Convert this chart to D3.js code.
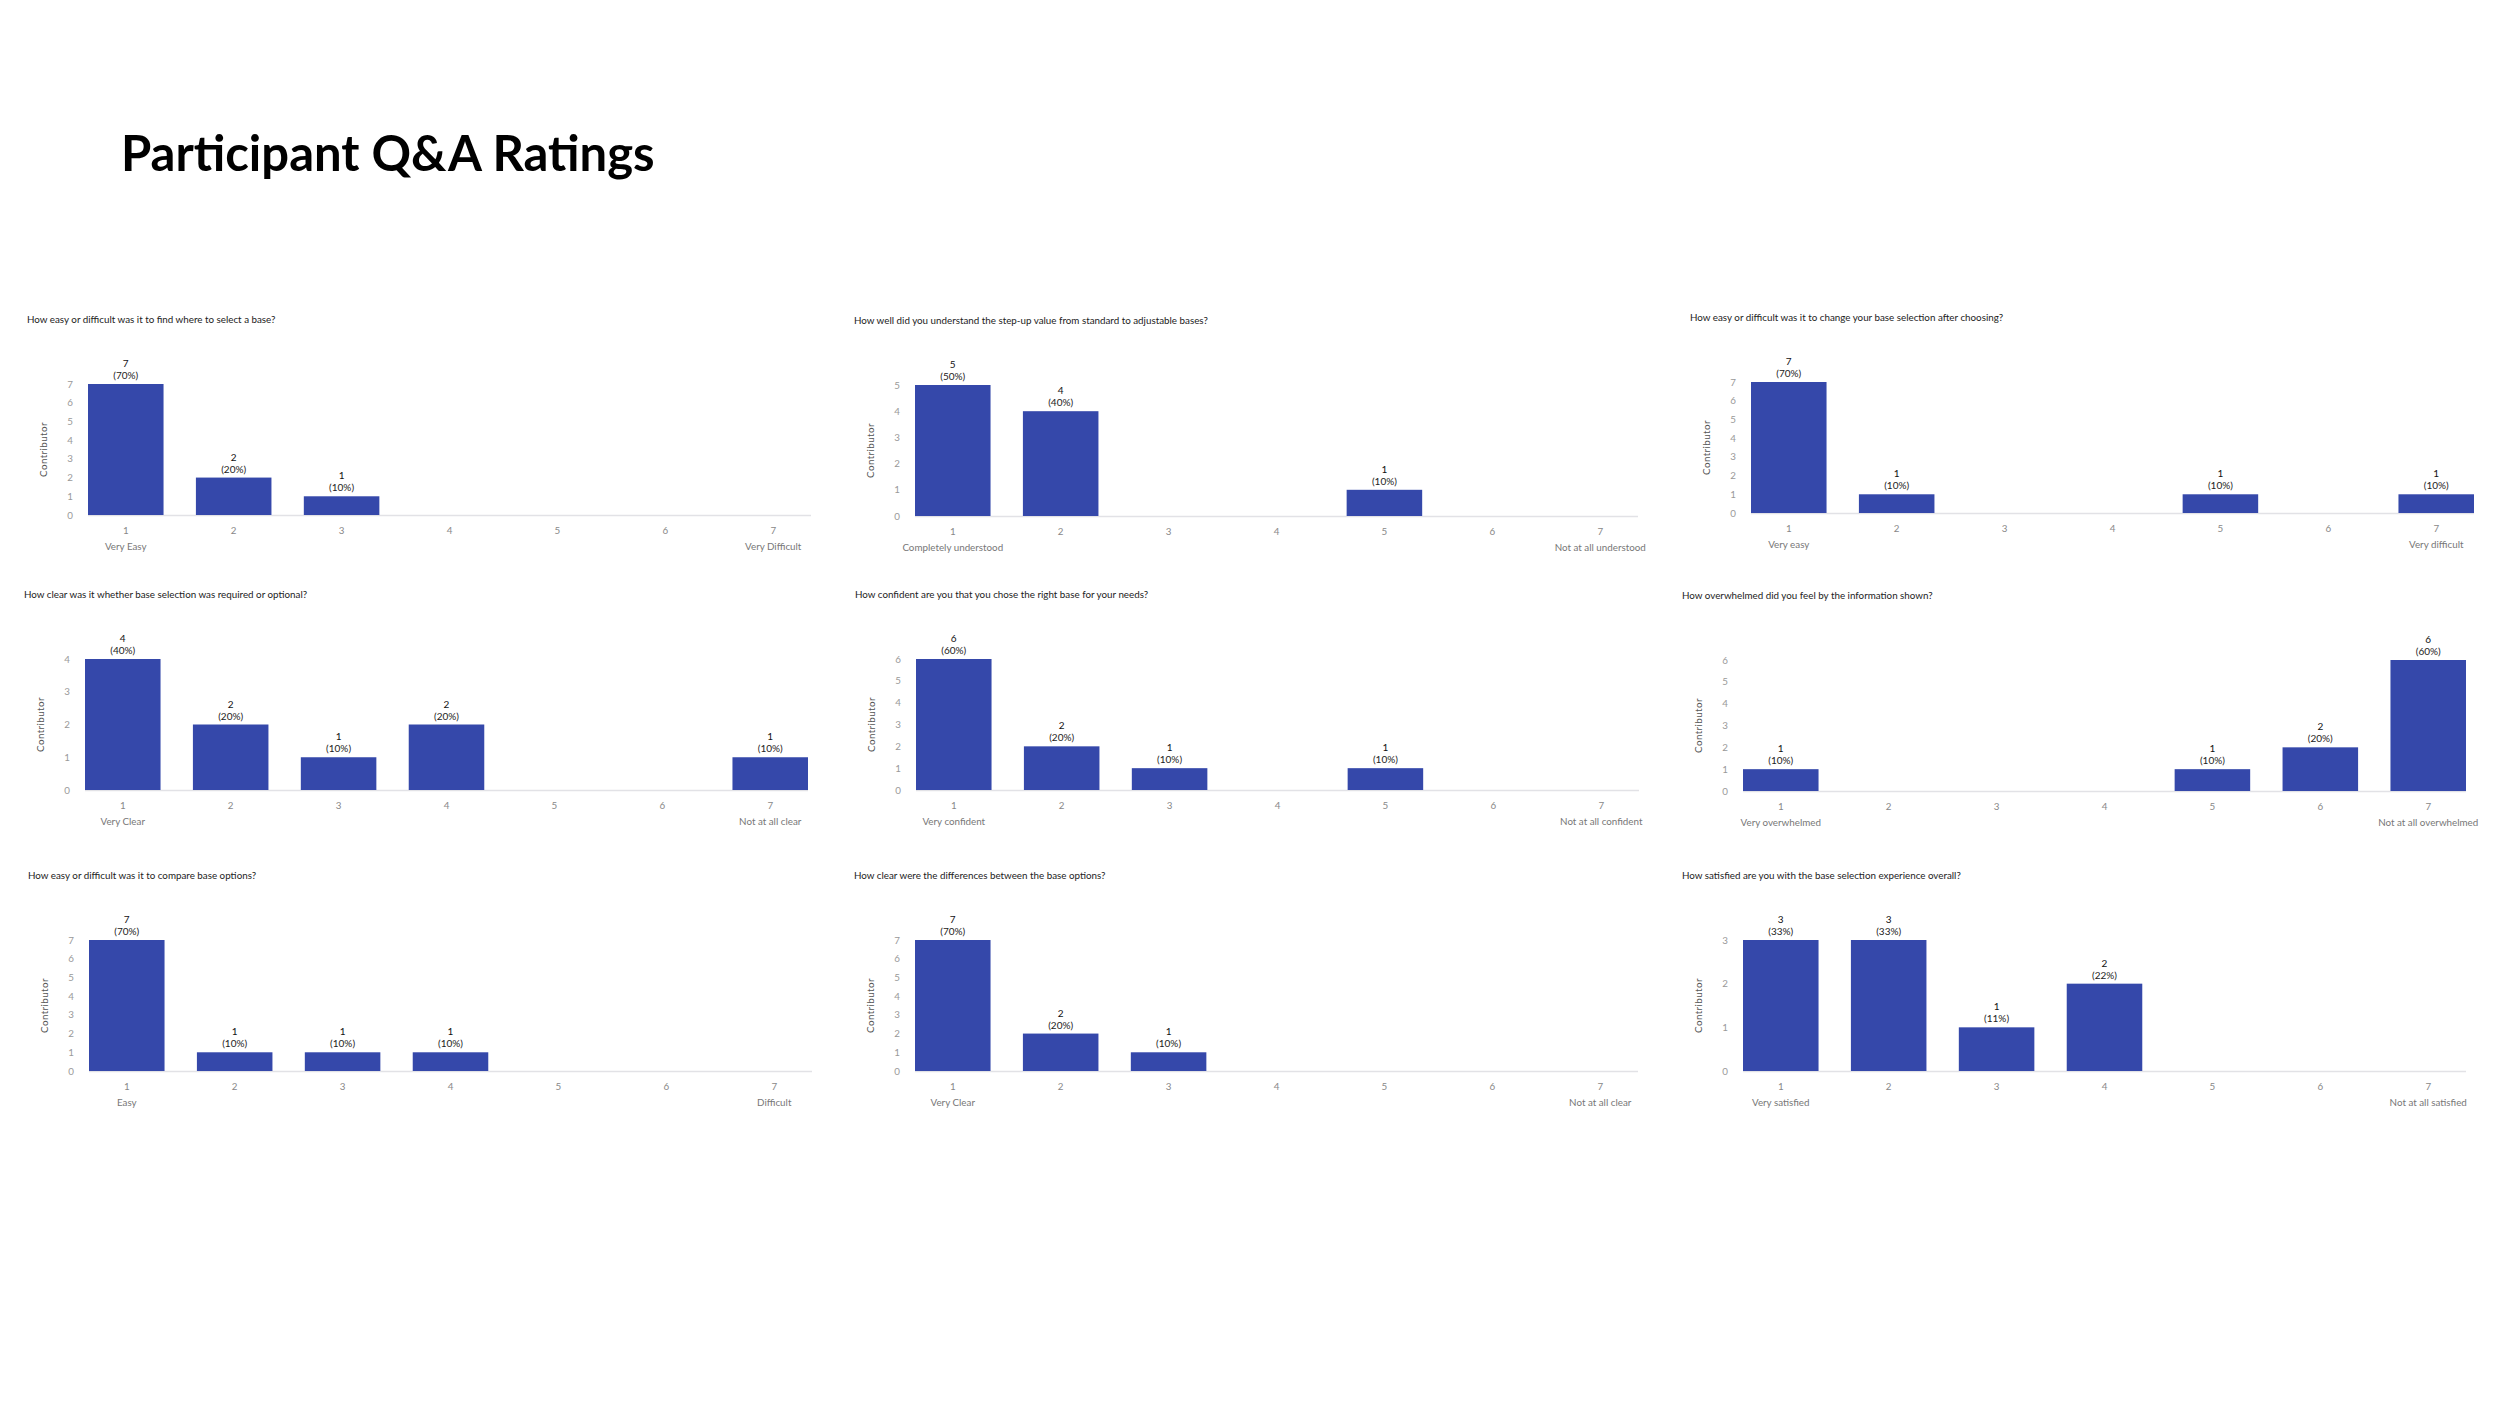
<!DOCTYPE html>
<html>
<head>
<meta charset="utf-8">
<script src="https://cdn.jsdelivr.net/npm/d3@7"></script>
<style>
  html, body { margin: 0; padding: 0; background: #ffffff; }
  svg { display: block; }
</style>
</head>
<body>
<div id="chart"></div>
<script>
// ---- data ----
const ratings = ["1", "2", "3", "4", "5", "6", "7"];

const questions = [
  "How easy or difficult was it to find where to select a base?",
  "How well did you understand the step-up value from standard to adjustable bases?",
  "How easy or difficult was it to change your base selection after choosing?",
  "How clear was it whether base selection was required or optional?",
  "How confident are you that you chose the right base for your needs?",
  "How overwhelmed did you feel by the information shown?",
  "How easy or difficult was it to compare base options?",
  "How clear were the differences between the base options?",
  "How satisfied are you with the base selection experience overall?"
];

const counts = [
  [7, 2, 1, 0, 0, 0, 0],
  [5, 4, 0, 0, 1, 0, 0],
  [7, 1, 0, 0, 1, 0, 1],
  [4, 2, 1, 2, 0, 0, 1],
  [6, 2, 1, 0, 1, 0, 0],
  [1, 0, 0, 0, 1, 2, 6],
  [7, 1, 1, 1, 0, 0, 0],
  [7, 2, 1, 0, 0, 0, 0],
  [3, 3, 1, 2, 0, 0, 0]
];

const percents = [
  ["70%", "20%", "10%", "", "", "", ""],
  ["50%", "40%", "", "", "10%", "", ""],
  ["70%", "10%", "", "", "10%", "", "10%"],
  ["40%", "20%", "10%", "20%", "", "", "10%"],
  ["60%", "20%", "10%", "", "10%", "", ""],
  ["10%", "", "", "", "10%", "20%", "60%"],
  ["70%", "10%", "10%", "10%", "", "", ""],
  ["70%", "20%", "10%", "", "", "", ""],
  ["33%", "33%", "11%", "22%", "", "", ""]
];

const lowLabels = ["Very Easy", "Completely understood", "Very easy", "Very Clear",
  "Very confident", "Very overwhelmed", "Easy", "Very Clear", "Very satisfied"];
const highLabels = ["Very Difficult", "Not at all understood", "Very difficult", "Not at all clear",
  "Not at all confident", "Not at all overwhelmed", "Difficult", "Not at all clear", "Not at all satisfied"];

// ---- layout ----
const W = 2500, H = 1406;
const plotW = 723, plotH = 131;
// bar-area left edge and baseline of each panel
const origins = [
  [88, 515], [915, 516], [1751, 513],
  [85, 790], [916, 790], [1743, 791],
  [89, 1071], [915, 1071], [1743, 1071]
];

const font = "Lato, 'Open Sans', sans-serif";
const barColor = "#3548aa";
const fs = "9.8px";

const svg = d3.select("#chart")
  .append("svg")
  .attr("width", W)
  .attr("height", H);

// main title
svg.append("text")
  .attr("x", 121)
  .attr("y", 171)
  .attr("font-family", font)
  .attr("font-weight", 700)
  .attr("font-size", "49px")
  .attr("fill", "#000")
  .text("Participant Q&A Ratings");

questions.forEach((q, i) => {
  const [ox, oy] = origins[i];
  const vals = counts[i];
  const maxV = d3.max(vals);

  const g = svg.append("g").attr("transform", `translate(${ox},${oy})`);

  const x = d3.scaleBand()
    .domain(ratings)
    .range([0, plotW])
    .paddingInner(0.3)
    .paddingOuter(0);

  const y = d3.scaleLinear().domain([0, maxV]).range([0, -plotH]);

  // question
  g.append("text")
    .attr("x", -61)
    .attr("y", -192)
    .attr("font-family", font)
    .attr("font-size", fs)
    .attr("fill", "#222")
    .text(q);

  // y label
  g.append("text")
    .attr("transform", `translate(-44,${-plotH / 2}) rotate(-90)`)
    .attr("text-anchor", "middle")
    .attr("dy", "0.35em")
    .attr("font-family", font)
    .attr("font-size", fs)
    .attr("letter-spacing", "0.4px")
    .attr("fill", "#555")
    .text("Contributor");

  // y axis (labels only)
  const yAxis = g.append("g")
    .attr("transform", "translate(-12,0)")
    .call(d3.axisLeft(y).tickValues(d3.range(0, maxV + 1)).tickSize(0).tickPadding(0).tickFormat(d3.format("d")));
  yAxis.select(".domain").remove();
  yAxis.selectAll("text")
    .attr("text-anchor", "middle")
    .attr("x", -6)
    .attr("font-family", font)
    .attr("font-size", fs)
    .attr("fill", "#999");

  // baseline
  g.append("line")
    .attr("x1", 0).attr("x2", plotW)
    .attr("y1", 0.5).attr("y2", 0.5)
    .attr("stroke", "#e2e2e6")
    .attr("stroke-width", 1.5);

  // x axis
  const xAxis = g.append("g")
    .call(d3.axisBottom(x).tickSize(0).tickPadding(12));
  xAxis.select(".domain").remove();
  xAxis.selectAll("text")
    .attr("font-family", font)
    .attr("font-size", fs)
    .attr("fill", "#888");

  // end labels
  g.append("text")
    .attr("x", x("1") + x.bandwidth() / 2)
    .attr("y", 35)
    .attr("text-anchor", "middle")
    .attr("font-family", font)
    .attr("font-size", fs)
    .attr("fill", "#777")
    .text(lowLabels[i]);
  g.append("text")
    .attr("x", x("7") + x.bandwidth() / 2)
    .attr("y", 35)
    .attr("text-anchor", "middle")
    .attr("font-family", font)
    .attr("font-size", fs)
    .attr("fill", "#777")
    .text(highLabels[i]);

  const data = ratings.map((r, j) => ({ r, v: vals[j], p: percents[i][j] })).filter(d => d.v > 0);

  // bars
  g.selectAll("rect.bar")
    .data(data)
    .enter()
    .append("rect")
    .attr("class", "bar")
    .attr("x", d => x(d.r))
    .attr("y", d => y(d.v))
    .attr("width", x.bandwidth())
    .attr("height", d => -y(d.v))
    .attr("fill", barColor);

  // value labels
  const lbl = g.selectAll("text.val")
    .data(data)
    .enter()
    .append("text")
    .attr("class", "val")
    .attr("x", d => x(d.r) + x.bandwidth() / 2)
    .attr("y", d => y(d.v))
    .attr("text-anchor", "middle")
    .attr("font-family", font)
    .attr("font-size", "10px")
    .attr("fill", "#222");
  lbl.append("tspan")
    .attr("x", d => x(d.r) + x.bandwidth() / 2)
    .attr("dy", -17)
    .attr("fill", "#111")
    .text(d => d.v);
  lbl.append("tspan")
    .attr("x", d => x(d.r) + x.bandwidth() / 2)
    .attr("dy", 12)
    .text(d => `(${d.p})`);
});
</script>
</body>
</html>
